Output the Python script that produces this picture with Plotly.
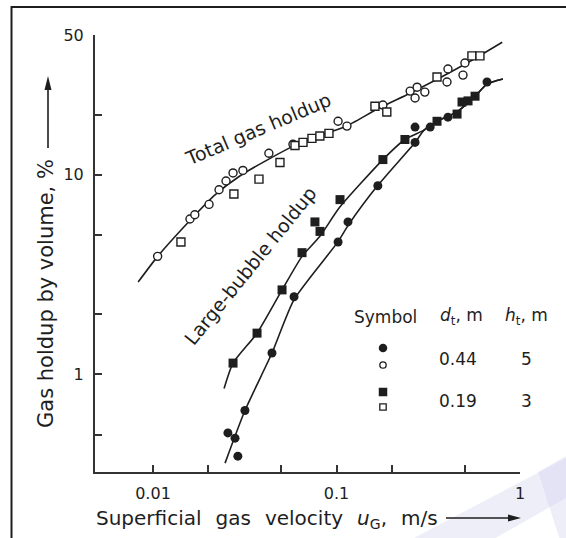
import math
import plotly.graph_objects as go

# ---------------- data ----------------
# Total gas holdup, d_t = 0.44 m (open circles)
tot44_u = [0.0106, 0.0159, 0.0169, 0.0202, 0.0229, 0.0250, 0.0273, 0.0309, 0.0428, 0.0579,
           0.102, 0.114, 0.179, 0.252, 0.275, 0.303, 0.268, 0.400, 0.405, 0.489, 0.501]
tot44_e = [3.9, 6.0, 6.3, 7.1, 8.4, 9.3, 10.2, 10.5, 12.8, 14.2,
           18.5, 17.5, 22.3, 26.2, 27.4, 25.9, 24.2, 29.1, 33.8, 31.5, 36.2]
# Total gas holdup, d_t = 0.19 m (open squares)
tot19_u = [0.0142, 0.0276, 0.0378, 0.0492, 0.0594, 0.0657, 0.0735, 0.0812, 0.0910,
           0.162, 0.188, 0.353, 0.547, 0.605]
tot19_e = [4.6, 8.0, 9.5, 11.5, 14.0, 14.5, 15.2, 15.6, 16.1,
           22.0, 20.6, 30.8, 39.3, 39.3]
# Large-bubble holdup, d_t = 0.44 m (filled circles)
lb44_u = [0.0256, 0.0280, 0.0290, 0.0317, 0.0445, 0.0587, 0.102, 0.1155, 0.168,
          0.268, 0.268, 0.324, 0.405, 0.661]
lb44_e = [0.51, 0.48, 0.39, 0.66, 1.28, 2.45, 4.6, 5.8, 8.8,
          17.3, 14.5, 17.3, 19.4, 29.1]
# Large-bubble holdup, d_t = 0.19 m (filled squares)
lb19_u = [0.0273, 0.0369, 0.0505, 0.0649, 0.0763, 0.0813, 0.1045, 0.179, 0.236,
          0.353, 0.454, 0.483, 0.521, 0.569]
lb19_e = [1.14, 1.61, 2.65, 4.07, 5.8, 5.2, 7.5, 11.9, 15.0,
          18.5, 20.1, 23.1, 23.4, 24.7]

# Correlation curves
tot_line_u = [0.0083, 0.0106, 0.0159, 0.0217, 0.030, 0.043, 0.062, 0.090, 0.112,
              0.17, 0.25, 0.36, 0.55, 0.80]
tot_line_e = [2.9, 3.9, 5.9, 7.9, 9.9, 12.0, 14.3, 16.2, 17.4,
              21.5, 25.5, 30.3, 37.5, 46.0]
lb19_line_u = [0.0244, 0.0273, 0.0369, 0.0505, 0.0649, 0.081, 0.1045, 0.179, 0.236,
               0.30, 0.353, 0.454, 0.569, 0.661, 0.807]
lb19_line_e = [0.85, 1.14, 1.61, 2.65, 3.9, 4.9, 6.9, 11.9, 15.0,
               16.7, 18.5, 20.6, 24.7, 28.4, 30.1]
lb44_line_u = [0.0247, 0.0317, 0.0445, 0.0587, 0.102, 0.1155, 0.168, 0.268,
               0.30, 0.353, 0.454, 0.569, 0.661, 0.807]
lb44_line_e = [0.36, 0.66, 1.28, 2.37, 4.62, 5.56, 8.84, 14.5,
               16.7, 18.5, 20.6, 24.7, 28.4, 30.1]

x_major_ticks = [0.01, 0.1, 1]
x_major_labels = ["0.01", "0.1", "1"]
x_minor_ticks = [0.02, 0.05, 0.2, 0.5]
y_major_ticks = [1, 10, 50]
y_major_labels = ["1", "10", "50"]
y_minor_ticks = [0.5, 2, 5, 20]

legend_rows = [("0.44", "5"), ("0.19", "3")]

# ---------------- layout geometry ----------------
W, H = 566, 538
L, R, T, B = 95, 46, 35, 66
PW, PH = W - L - R, H - T - B
INK = "#1e1e1e"
FONT = "DejaVu Sans"


def paper(px, py):
    return (px - L) / PW, (H - B - py) / PH


fig = go.Figure()

line_style = dict(color=INK, width=1.6, shape="spline", smoothing=0.6)
for xs, ys in [(tot_line_u, tot_line_e), (lb19_line_u, lb19_line_e), (lb44_line_u, lb44_line_e)]:
    fig.add_trace(go.Scatter(x=xs, y=ys, mode="lines", line=line_style, hoverinfo="skip"))

fig.add_trace(go.Scatter(x=tot44_u, y=tot44_e, mode="markers",
                         marker=dict(symbol="circle", size=8, color="white",
                                     line=dict(color=INK, width=1.4))))
fig.add_trace(go.Scatter(x=tot19_u, y=tot19_e, mode="markers",
                         marker=dict(symbol="square", size=8, color="white",
                                     line=dict(color=INK, width=1.4))))
fig.add_trace(go.Scatter(x=lb44_u, y=lb44_e, mode="markers",
                         marker=dict(symbol="circle", size=9, color=INK,
                                     line=dict(color=INK, width=0))))
fig.add_trace(go.Scatter(x=lb19_u, y=lb19_e, mode="markers",
                         marker=dict(symbol="square", size=9, color=INK,
                                     line=dict(color=INK, width=0))))

annotations = []
shapes = []


def text_at(px, py, txt, size, angle=0, xanchor="center", yanchor="middle"):
    xp, yp = paper(px, py)
    annotations.append(dict(x=xp, y=yp, xref="paper", yref="paper", text=txt,
                            showarrow=False, textangle=angle, xanchor=xanchor,
                            yanchor=yanchor, font=dict(family=FONT, size=size, color=INK)))


def poly(pts):
    p = [paper(a, b) for a, b in pts]
    return "M " + " L ".join(f"{a:.4f},{b:.4f}" for a, b in p) + " Z"


def seg(p0, p1, width=1.6):
    x0, y0 = paper(*p0)
    x1, y1 = paper(*p1)
    shapes.append(dict(type="line", xref="paper", yref="paper", x0=x0, y0=y0, x1=x1, y1=y1,
                       line=dict(color=INK, width=width), layer="above"))


# curve labels
text_at(258, 129, "Total gas holdup", 19, angle=-23)
text_at(250, 266, "Large-bubble holdup", 19, angle=-51)

# axis titles
SP = "\u2002\u2009"
text_at(94, 519, f"Superficial{SP}gas{SP}velocity{SP}<i>u</i><sub>G</sub>,{SP}m/s", 20,
        xanchor="left")
text_at(46, 294, "Gas holdup by volume, %", 21, angle=-90)

# axis-title arrows (drawn as shapes)
seg((446, 518), (512, 518))
shapes.append(dict(type="path", xref="paper", yref="paper",
                   path=poly([(508, 514.5), (521, 518), (508, 521.5)]),
                   fillcolor=INK, line=dict(width=0), layer="above"))
seg((48, 148), (48, 86))
shapes.append(dict(type="path", xref="paper", yref="paper",
                   path=poly([(44.5, 90), (48, 76), (51.5, 90)]),
                   fillcolor=INK, line=dict(width=0), layer="above"))

# legend table
text_at(385, 317, "Symbol", 17)
text_at(461, 317, "<i>d</i><sub>t</sub>, m", 17)
text_at(526, 317, "<i>h</i><sub>t</sub>, m", 17)
row_y = [(348, 365, 359), (392, 407, 401)]
for (d, h), (y1, y2, yc), kind in zip(legend_rows, row_y, ["circle", "rect"]):
    for yy, filled in [(y1, True), (y2, False)]:
        r = 3.6 if filled else 3.2
        x0, y0 = paper(383 - r, yy + r)
        x1, y1_ = paper(383 + r, yy - r)
        shapes.append(dict(type=kind, xref="paper", yref="paper", x0=x0, y0=y0, x1=x1, y1=y1_,
                           fillcolor=INK if filled else "white",
                           line=dict(color=INK, width=1.3), layer="above"))
    text_at(458, yc, d, 17)
    text_at(526, yc, h, 17)

# frame + faint watermark
fx0, fy0 = paper(11.5, 7)
fx1, fy1 = paper(570, 545)
shapes.append(dict(type="rect", xref="paper", yref="paper", x0=fx0, x1=fx1, y0=fy1, y1=fy0,
                   line=dict(color=INK, width=2), fillcolor="rgba(0,0,0,0)", layer="above"))
for pts in [[(410, 540), (566, 458), (566, 498), (492, 540)],
            [(538, 472), (566, 456), (566, 540), (560, 540)]]:
    shapes.append(dict(type="path", xref="paper", yref="paper", path=poly(pts),
                       fillcolor="rgba(205,205,238,0.35)", line=dict(width=0), layer="below"))

axis_common = dict(type="log", showline=True, linecolor="#333", linewidth=2,
                   ticks="inside", ticklen=7, tickwidth=1.5, tickcolor="#333",
                   showgrid=False, zeroline=False,
                   tickfont=dict(family=FONT, size=16, color=INK))
minor_common = dict(ticks="inside", ticklen=7, tickwidth=1.5, tickcolor="#333", showgrid=False)

fig.update_layout(
    width=W, height=H, margin=dict(l=L, r=R, t=T, b=B),
    paper_bgcolor="white", plot_bgcolor="white", showlegend=False,
    xaxis=dict(range=[math.log10(0.00483), 0], tickmode="array", tickvals=x_major_ticks,
               ticktext=x_major_labels, ticklabelstandoff=6,
               minor=dict(tickmode="array", tickvals=x_minor_ticks, **minor_common), **axis_common),
    yaxis=dict(range=[math.log10(0.325), math.log10(50)], tickmode="array", tickvals=y_major_ticks,
               ticktext=y_major_labels, ticklabelstandoff=6,
               minor=dict(tickmode="array", tickvals=y_minor_ticks, **minor_common), **axis_common),
    annotations=annotations, shapes=shapes,
)

fig.write_html("out.html", config={"displayModeBar": False},
               post_script="document.body.style.margin='0px';document.body.style.overflow='hidden';")
